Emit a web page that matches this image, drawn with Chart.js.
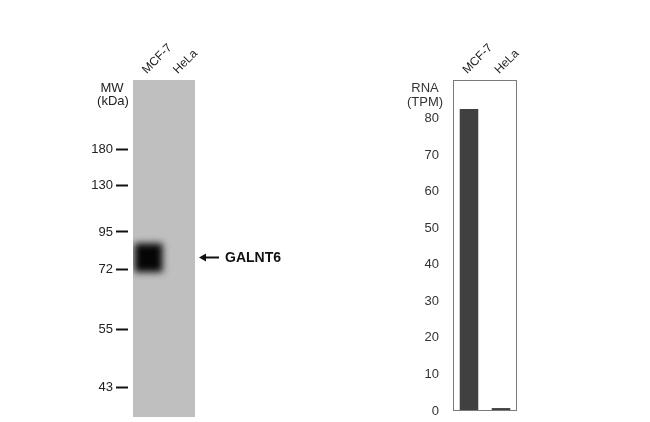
<!DOCTYPE html>
<html>
<head>
<meta charset="utf-8">
<script src="https://cdn.jsdelivr.net/npm/chart.js@4.4.1/dist/chart.umd.min.js"></script>
<style>
    html, body { margin: 0; padding: 0; background: #fff; }
    #page { position: relative; width: 650px; height: 422px; overflow: hidden; }
    canvas { position: absolute; top: 0; }
    #blot { left: 0; }
    #rna { left: 330px; }
</style>
</head>
<body>
<div id="page">
    <canvas id="blot" width="320" height="422"></canvas>
    <canvas id="rna" width="320" height="422"></canvas>
</div>
<script>
// ============================================================
// Western blot (GALNT6) + RNA expression (TPM)
// ============================================================

const lanes = ["MCF-7", "HeLa"];

// marcadores de peso molecular e mobilidade relativa (0 = topo do gel, 1 = fundo)
const mwMarkers = [180, 130, 95, 72, 55, 43];
const mwMobility = [0.205, 0.312, 0.451, 0.561, 0.739, 0.911];

// banda detectada: [início, fim] em mobilidade relativa
const bandMobility = [[0.485, 0.57], null];
const bandLabel = "GALNT6";

// expressão de RNA (TPM)
const rnaValues = [82.6, 0.8];
const rnaTicks = [0, 10, 20, 30, 40, 50, 60, 70, 80];

Chart.defaults.font.family = "'Liberation Sans', Arial, sans-serif";
Chart.defaults.color = "#222";
Chart.defaults.animation = false;

// remove o espaço extra que a escala reserva para meio rótulo
const noPadY = s => { s.paddingTop = 0; s.paddingBottom = 0; };

// ---------- blot ----------
const blotPlugin = {
    id: "blotDeco",
    beforeDatasetsDraw(chart) {
        const { ctx, chartArea: a } = chart;
        ctx.save();
        ctx.fillStyle = "#bfbfbf";
        ctx.fillRect(a.left, a.top, a.right - a.left, a.bottom - a.top);
        ctx.restore();
    },
    beforeDatasetDraw(chart) {
        chart.ctx.save();
        chart.ctx.filter = "blur(3.5px)";
    },
    afterDatasetDraw(chart) {
        chart.ctx.restore();
    },
    afterDraw(chart) {
        const { ctx, chartArea: a } = chart;
        const yScale = chart.scales.y;
        ctx.save();
        ctx.fillStyle = "#222";
        ctx.font = "13px 'Liberation Sans', Arial, sans-serif";
        ctx.textAlign = "center";
        ctx.textBaseline = "middle";
        ctx.fillText("MW", yScale.right - 21, 88);
        ctx.fillText("(kDa)", yScale.right - 20, 101);

        // seta + rótulo da banda
        const el = chart.getDatasetMeta(0).data[0];
        const yMid = Math.round((el.y + el.base) / 2) - 0.5;
        const x0 = a.right + 4, x1 = a.right + 24;
        ctx.strokeStyle = "#111";
        ctx.fillStyle = "#111";
        ctx.lineWidth = 2;
        ctx.beginPath();
        ctx.moveTo(x0 + 4, yMid);
        ctx.lineTo(x1, yMid);
        ctx.stroke();
        ctx.beginPath();
        ctx.moveTo(x0, yMid);
        ctx.lineTo(x0 + 7, yMid - 4);
        ctx.lineTo(x0 + 7, yMid + 4);
        ctx.closePath();
        ctx.fill();
        ctx.font = "bold 14px 'Liberation Sans', Arial, sans-serif";
        ctx.textAlign = "left";
        ctx.fillText(bandLabel, x1 + 6, yMid + 1);
        ctx.restore();
    }
};

new Chart(document.getElementById("blot").getContext("2d"), {
    type: "bar",
    data: {
        labels: lanes,
        datasets: [{
            data: bandMobility,
            backgroundColor: "#050505",
            borderWidth: 0,
            barPercentage: 0.9,
            categoryPercentage: 1.0
        }]
    },
    options: {
        responsive: false,
        layout: { padding: { left: 0, top: 0, right: 125, bottom: 5 } },
        plugins: { legend: { display: false }, tooltip: { enabled: false } },
        scales: {
            x: {
                position: "top",
                grid: { display: false, drawTicks: false },
                border: { display: false },
                ticks: { minRotation: 45, maxRotation: 45, padding: 3, labelOffset: 6, font: { size: 12 }, color: "#222" },
                afterFit: s => { s.height = 80; s.paddingLeft = 0; s.paddingRight = 0; }
            },
            y: {
                min: 0, max: 1, reverse: true,
                grid: {
                    drawOnChartArea: false, drawTicks: true,
                    tickLength: 17, tickWidth: 2, tickColor: "#111",
                    tickBorderDash: [12, 30]
                },
                border: { display: false },
                afterBuildTicks: s => { s.ticks = mwMobility.map(v => ({ value: v })); },
                ticks: {
                    autoSkip: false, padding: 3,
                    font: { size: 13 }, color: "#222",
                    callback: (v, i) => mwMarkers[i]
                },
                afterFit: s => { s.width = 133; noPadY(s); }
            }
        }
    },
    plugins: [blotPlugin]
});

// ---------- RNA ----------
const rnaPlugin = {
    id: "rnaDeco",
    afterDraw(chart) {
        const { ctx, chartArea: a } = chart;
        const yScale = chart.scales.y;
        ctx.save();
        ctx.strokeStyle = "#7a7a7a";
        ctx.lineWidth = 1;
        ctx.strokeRect(a.left + 0.5, a.top + 0.5, a.right - a.left - 1, a.bottom - a.top - 1);
        ctx.fillStyle = "#333";
        ctx.font = "13px 'Liberation Sans', Arial, sans-serif";
        ctx.textAlign = "center";
        ctx.textBaseline = "middle";
        ctx.fillText("RNA", yScale.right - 28, 88);
        ctx.fillText("(TPM)", yScale.right - 28, 102);
        ctx.restore();
    }
};

new Chart(document.getElementById("rna").getContext("2d"), {
    type: "bar",
    data: {
        labels: lanes,
        datasets: [{
            data: rnaValues,
            backgroundColor: "#404040",
            borderWidth: 0,
            barPercentage: 0.58,
            categoryPercentage: 1.0
        }]
    },
    options: {
        responsive: false,
        layout: { padding: { left: 0, top: 0, right: 133, bottom: 11 } },
        plugins: { legend: { display: false }, tooltip: { enabled: false } },
        scales: {
            x: {
                position: "top",
                grid: { display: false, drawTicks: false },
                border: { display: false },
                ticks: { minRotation: 45, maxRotation: 45, padding: 3, labelOffset: 6, font: { size: 12 }, color: "#222" },
                afterFit: s => { s.height = 80; s.paddingLeft = 0; s.paddingRight = 0; }
            },
            y: {
                min: 0, max: 90.5,
                grid: { display: false, drawTicks: false },
                border: { display: false },
                afterBuildTicks: s => { s.ticks = rnaTicks.map(v => ({ value: v })); },
                ticks: { autoSkip: false, padding: 14, font: { size: 13 }, color: "#333" },
                afterFit: s => { s.width = 123; noPadY(s); }
            }
        }
    },
    plugins: [rnaPlugin]
});
</script>
</body>
</html>
